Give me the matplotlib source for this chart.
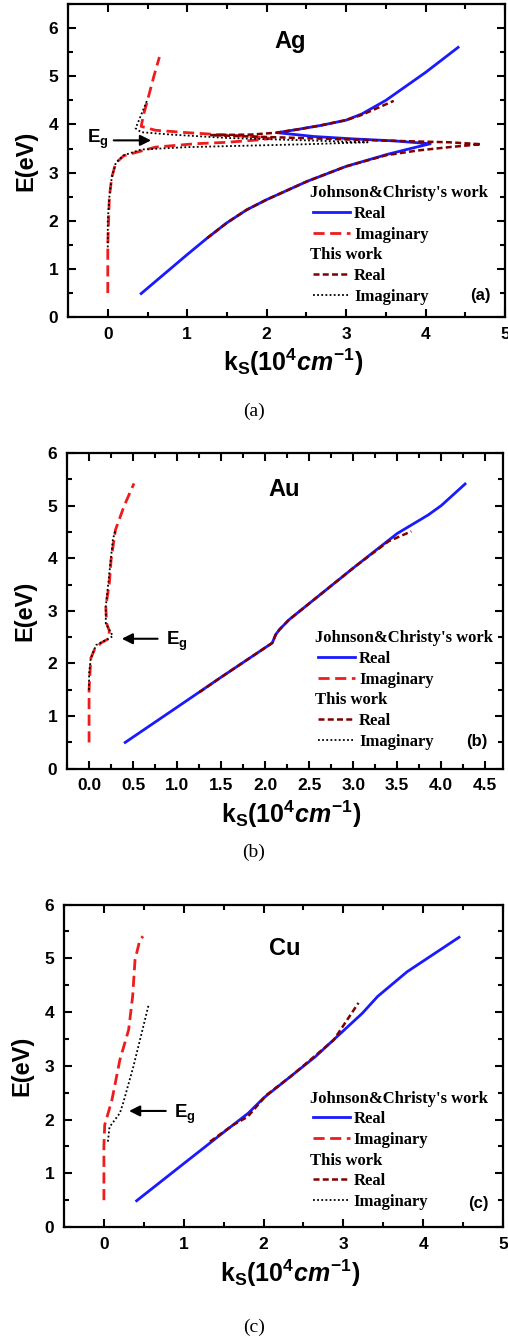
import numpy as np
import matplotlib
matplotlib.use('Agg')
import matplotlib.pyplot as plt
from matplotlib.ticker import MultipleLocator
from matplotlib.lines import Line2D

plt.rcParams['font.family'] = ['Liberation Sans', 'DejaVu Sans']
plt.rcParams['font.weight'] = 'bold'
plt.rcParams['mathtext.fontset'] = 'custom'
plt.rcParams['mathtext.rm'] = 'Liberation Sans:bold'
plt.rcParams['mathtext.bf'] = 'Liberation Sans:bold'
plt.rcParams['mathtext.it'] = 'Liberation Sans:italic:bold'

# ---------------- Ag ----------------
ag_jc_real_k = [0.42, 1.0, 1.25, 1.5, 1.75, 2.0, 2.51, 3.0, 3.52, 3.81, 4.06, 3.6, 3.1, 2.6, 2.13, 2.4, 2.68, 3.0, 3.2, 3.5, 4.0, 4.41]
ag_jc_real_e = [0.49, 1.3, 1.64, 1.96, 2.23, 2.44, 2.82, 3.13, 3.38, 3.5, 3.6, 3.66, 3.70, 3.75, 3.83, 3.9, 3.98, 4.09, 4.22, 4.5, 5.08, 5.6]
ag_jc_imag_k = [0.0, 0.0, 0.0, 0.01, 0.02, 0.05, 0.1, 0.2, 0.6, 1.1, 1.5, 1.9, 2.05, 1.8, 1.5, 1.0, 0.6, 0.42, 0.45, 0.5, 0.58, 0.65]
ag_jc_imag_e = [0.5, 1.0, 1.5, 2.0, 2.5, 2.9, 3.2, 3.35, 3.53, 3.6, 3.63, 3.68, 3.71, 3.75, 3.78, 3.83, 3.88, 3.96, 4.2, 4.5, 5.0, 5.4]
ag_tw_real_k = [1.25, 1.5, 1.75, 2.0, 2.51, 3.0, 3.5, 3.9, 4.3, 4.7, 4.3, 3.6, 3.0, 2.4, 1.8, 1.3, 1.8, 2.13, 2.4, 2.68, 3.0, 3.2, 3.6]
ag_tw_real_e = [1.64, 1.96, 2.23, 2.44, 2.82, 3.13, 3.36, 3.46, 3.53, 3.59, 3.63, 3.66, 3.69, 3.72, 3.75, 3.78, 3.79, 3.83, 3.9, 3.98, 4.09, 4.2, 4.49]
ag_tw_imag_k = [0.0, 0.0, 0.02, 0.05, 0.1, 0.2, 0.42, 1.0, 1.5, 2.5, 3.27, 2.5, 1.5, 0.8, 0.42, 0.35, 0.42, 0.5]
ag_tw_imag_e = [1.45, 2.0, 2.5, 2.9, 3.2, 3.36, 3.48, 3.53, 3.55, 3.59, 3.63, 3.67, 3.72, 3.79, 3.84, 3.92, 4.2, 4.52]

# ---------------- Au ----------------
au_jc_real_k = [0.41, 1.0, 1.5, 2.08, 2.12, 2.16, 2.27, 3.02, 3.5, 3.85, 4.0, 4.27]
au_jc_real_e = [0.5, 1.17, 1.74, 2.39, 2.55, 2.64, 2.83, 3.84, 4.47, 4.82, 5.0, 5.41]
au_jc_imag_k = [0.0, 0.0, 0.0, 0.01, 0.02, 0.06, 0.135, 0.22, 0.23, 0.2, 0.19, 0.23, 0.25, 0.30, 0.40, 0.51]
au_jc_imag_e = [0.5, 1.0, 1.5, 1.8, 2.1, 2.26, 2.39, 2.47, 2.62, 2.76, 3.08, 3.52, 3.97, 4.54, 5.0, 5.42]
au_tw_real_k = [1.25, 1.5, 2.08, 2.12, 2.16, 2.27, 3.02, 3.4, 3.66]
au_tw_real_e = [1.45, 1.74, 2.39, 2.55, 2.64, 2.83, 3.84, 4.32, 4.51]
au_tw_imag_k = [0.0, 0.0, 0.02, 0.08, 0.21, 0.27, 0.23, 0.19, 0.19, 0.23, 0.27, 0.30]
au_tw_imag_e = [1.5, 1.8, 2.1, 2.35, 2.46, 2.52, 2.64, 2.76, 3.08, 3.71, 4.35, 4.54]

# ---------------- Cu ----------------
cu_jc_real_k = [0.41, 1.0, 1.48, 1.81, 2.0, 2.65, 3.24, 3.43, 3.80, 4.45]
cu_jc_real_e = [0.49, 1.18, 1.74, 2.12, 2.40, 3.17, 3.98, 4.29, 4.75, 5.39]
cu_jc_imag_k = [0.0, 0.0, 0.0, 0.01, 0.1, 0.2, 0.31, 0.36, 0.39, 0.45, 0.49]
cu_jc_imag_e = [0.5, 1.06, 1.5, 1.9, 2.36, 3.11, 3.67, 4.29, 4.97, 5.34, 5.41]
cu_tw_real_k = [1.33, 1.62, 1.8, 2.04, 2.34, 2.88, 3.19]
cu_tw_real_e = [1.59, 1.90, 2.05, 2.46, 2.80, 3.48, 4.17]
cu_tw_imag_k = [0.05, 0.07, 0.2, 0.24, 0.37, 0.56]
cu_tw_imag_e = [1.59, 1.86, 2.12, 2.30, 2.99, 4.13]

metals = ['Ag', 'Au', 'Cu']
panel_tags = ['(a)', '(b)', '(c)']
eg_head = [(0.58, 3.67), (0.34, 2.47), (0.28, 2.16)]
eg_tail = [(0.04, 3.67), (0.81, 2.47), (0.81, 2.16)]

data = {
    'Ag': (ag_jc_real_k, ag_jc_real_e, ag_jc_imag_k, ag_jc_imag_e, ag_tw_real_k, ag_tw_real_e, ag_tw_imag_k, ag_tw_imag_e),
    'Au': (au_jc_real_k, au_jc_real_e, au_jc_imag_k, au_jc_imag_e, au_tw_real_k, au_tw_real_e, au_tw_imag_k, au_tw_imag_e),
    'Cu': (cu_jc_real_k, cu_jc_real_e, cu_jc_imag_k, cu_jc_imag_e, cu_tw_real_k, cu_tw_real_e, cu_tw_imag_k, cu_tw_imag_e),
}

# layout (figure fractions) and axis settings per panel
rects = [[0.134, 0.764, 0.860, 0.233],
         [0.132, 0.428, 0.858, 0.235],
         [0.126, 0.087, 0.864, 0.240]]
xlims = [(-0.5, 5.0), (-0.25, 4.7), (-0.5, 5.0)]
ylims = [(0, 6.5), (0, 6), (0, 6)]
xmajor = [1, 0.5, 1]
title_pos = [(2.29, 5.73), (2.22, 5.31), (2.27, 5.19)]
tag_pos = [(4.69, 0.46), (4.40, 0.52), (4.69, 0.44)]
eg_text = [(-0.13, 3.69), (1.0, 2.42), (1.02, 2.09)]
leg_anchor = [(0.561, 0.04), (0.576, 0.06), (0.567, 0.053)]
caption_y = [1 - 411 / 1344, 1 - 852 / 1344, 1 - 1327 / 1344]

fig = plt.figure(figsize=(5.08, 13.44), dpi=100)

for i, m in enumerate(metals):
    jr_k, jr_e, ji_k, ji_e, tr_k, tr_e, ti_k, ti_e = data[m]
    ax = fig.add_axes(rects[i])
    l1, = ax.plot(jr_k, jr_e, color='#1a1aff', lw=2.0)
    l2, = ax.plot(ji_k, ji_e, color='#ee1c1c', lw=2.0, dashes=(4.0, 2.0))
    l3, = ax.plot(tr_k, tr_e, color='#800000', lw=1.8, dashes=(2.4, 1.3))
    l4, = ax.plot(ti_k, ti_e, color='black', lw=1.3, linestyle=(0, (1, 1.3)))

    ax.set_xlim(*xlims[i])
    ax.set_ylim(*ylims[i])
    ax.xaxis.set_major_locator(MultipleLocator(xmajor[i]))
    ax.xaxis.set_minor_locator(MultipleLocator(xmajor[i] / 2))
    ax.yaxis.set_major_locator(MultipleLocator(1))
    ax.yaxis.set_minor_locator(MultipleLocator(0.5))
    if xmajor[i] == 0.5:
        ax.xaxis.set_major_formatter(plt.FormatStrFormatter('%.1f'))
    ax.tick_params(which='both', direction='in', top=True, right=True, width=1.5, labelsize=12.5)
    ax.tick_params(which='major', length=6, pad=7)
    ax.tick_params(which='minor', length=3.5)
    for s in ax.spines.values():
        s.set_linewidth(1.6)
    for lab in ax.get_xticklabels() + ax.get_yticklabels():
        lab.set_fontweight('bold')

    ax.set_xlabel(r'$\mathrm{k_S(10^4}cm^{\mathrm{-1}}\mathrm{)}$', fontsize=18)
    ax.set_ylabel('E(eV)', fontsize=17, fontweight='bold')
    ax.xaxis.set_label_coords(0.515, -0.095)
    ax.yaxis.set_label_coords(-0.07, 0.5)

    ax.text(title_pos[i][0], title_pos[i][1], m, fontsize=17, fontweight='bold', ha='center', va='center')
    ax.text(tag_pos[i][0], tag_pos[i][1], panel_tags[i], fontsize=12, fontweight='bold', ha='center', va='center')

    ax.annotate('', xy=eg_head[i], xytext=eg_tail[i],
                arrowprops=dict(arrowstyle='-|>', color='black', lw=1.5, mutation_scale=16))
    ax.text(eg_text[i][0], eg_text[i][1], r'$\mathbf{E_g}$', fontsize=13.5, ha='center', va='center')

    blank = Line2D([], [], linestyle='none')
    handles = [blank, l1, l2, blank, l3, l4]
    labels = ["Johnson&Christy's work", 'Real', 'Imaginary', 'This work', 'Real', 'Imaginary']
    leg = ax.legend(handles, labels, loc='lower left', bbox_to_anchor=leg_anchor[i], frameon=False,
                    prop=dict(family='Liberation Serif', weight='bold', size=12),
                    handlelength=2.2, handletextpad=0.25, labelspacing=0.28, borderpad=0, borderaxespad=0)
    shift = (2.2 + 0.25) * 12 * fig.dpi / 72 + 3
    for j in (0, 3):
        leg.get_texts()[j].set_position((-shift, 0))

    fig.text(0.5, caption_y[i], panel_tags[i], family='Liberation Serif', fontweight='normal',
             fontsize=14, ha='center', va='center')

fig.savefig('out.png', dpi=100)
